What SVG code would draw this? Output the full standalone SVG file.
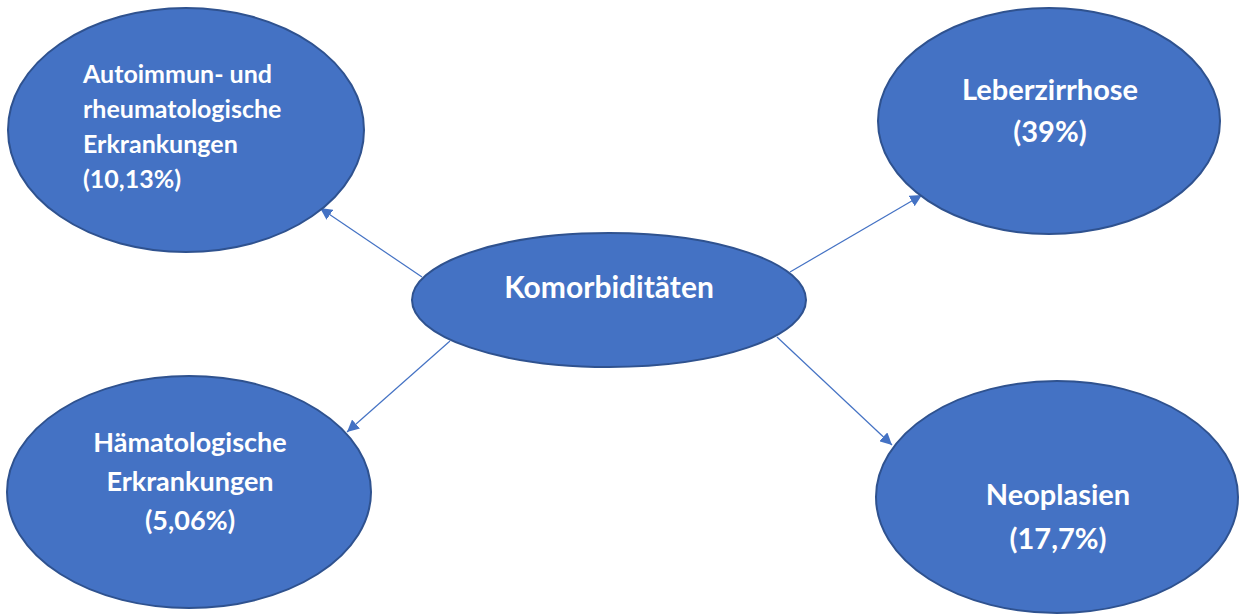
<svg xmlns="http://www.w3.org/2000/svg" width="1240" height="616" viewBox="0 0 1240 616">
<defs>
<style>
.node ellipse{fill:#4472C4;stroke:#2F528F;stroke-width:2}
.node text{fill:#FFFFFF;font-family:Lato,"Liberation Sans",sans-serif;font-weight:bold}
.conn line{stroke:#4472C4;stroke-width:1.2}
</style>
<marker id="arr" viewBox="0 0 12 12" refX="12" refY="6" markerWidth="12" markerHeight="12" markerUnits="userSpaceOnUse" orient="auto">
<path d="M0,0 L12,6 L0,12 z" fill="#4472C4"/>
</marker>
</defs>
<rect width="1240" height="616" fill="#FFFFFF"/>
<g id="connectors" class="conn">
<line x1="422" y1="277" x2="320" y2="208" marker-end="url(#arr)"/>
<line x1="450" y1="341" x2="347" y2="432" marker-end="url(#arr)"/>
<line x1="790" y1="272" x2="922" y2="195" marker-end="url(#arr)"/>
<line x1="777" y1="337" x2="892" y2="445" marker-end="url(#arr)"/>
</g>
<g id="node-autoimmun" class="node">
<ellipse cx="186" cy="130" rx="178" ry="122"/>
<text font-size="25"><tspan x="83" y="83">Autoimmun- und</tspan><tspan x="83" y="118">rheumatologische</tspan><tspan x="83" y="153">Erkrankungen</tspan><tspan x="83" y="188">(10,13%)</tspan></text>
</g>
<g id="node-leberzirrhose" class="node">
<ellipse cx="1049" cy="121" rx="171" ry="113"/>
<text font-size="29" text-anchor="middle"><tspan x="1050" y="100">Leberzirrhose</tspan><tspan x="1050" y="142">(39%)</tspan></text>
</g>
<g id="node-komorbiditaeten" class="node">
<ellipse cx="609" cy="300" rx="197" ry="67"/>
<text font-size="30" text-anchor="middle" x="609" y="298">Komorbiditäten</text>
</g>
<g id="node-haematologische" class="node">
<ellipse cx="189" cy="492" rx="182" ry="116"/>
<text font-size="27" text-anchor="middle"><tspan x="190" y="452">Hämatologische</tspan><tspan x="190" y="491">Erkrankungen</tspan><tspan x="190" y="530">(5,06%)</tspan></text>
</g>
<g id="node-neoplasien" class="node">
<ellipse cx="1057" cy="497" rx="181" ry="116"/>
<text font-size="29" text-anchor="middle"><tspan x="1058" y="505">Neoplasien</tspan><tspan x="1058" y="549">(17,7%)</tspan></text>
</g>
</svg>
